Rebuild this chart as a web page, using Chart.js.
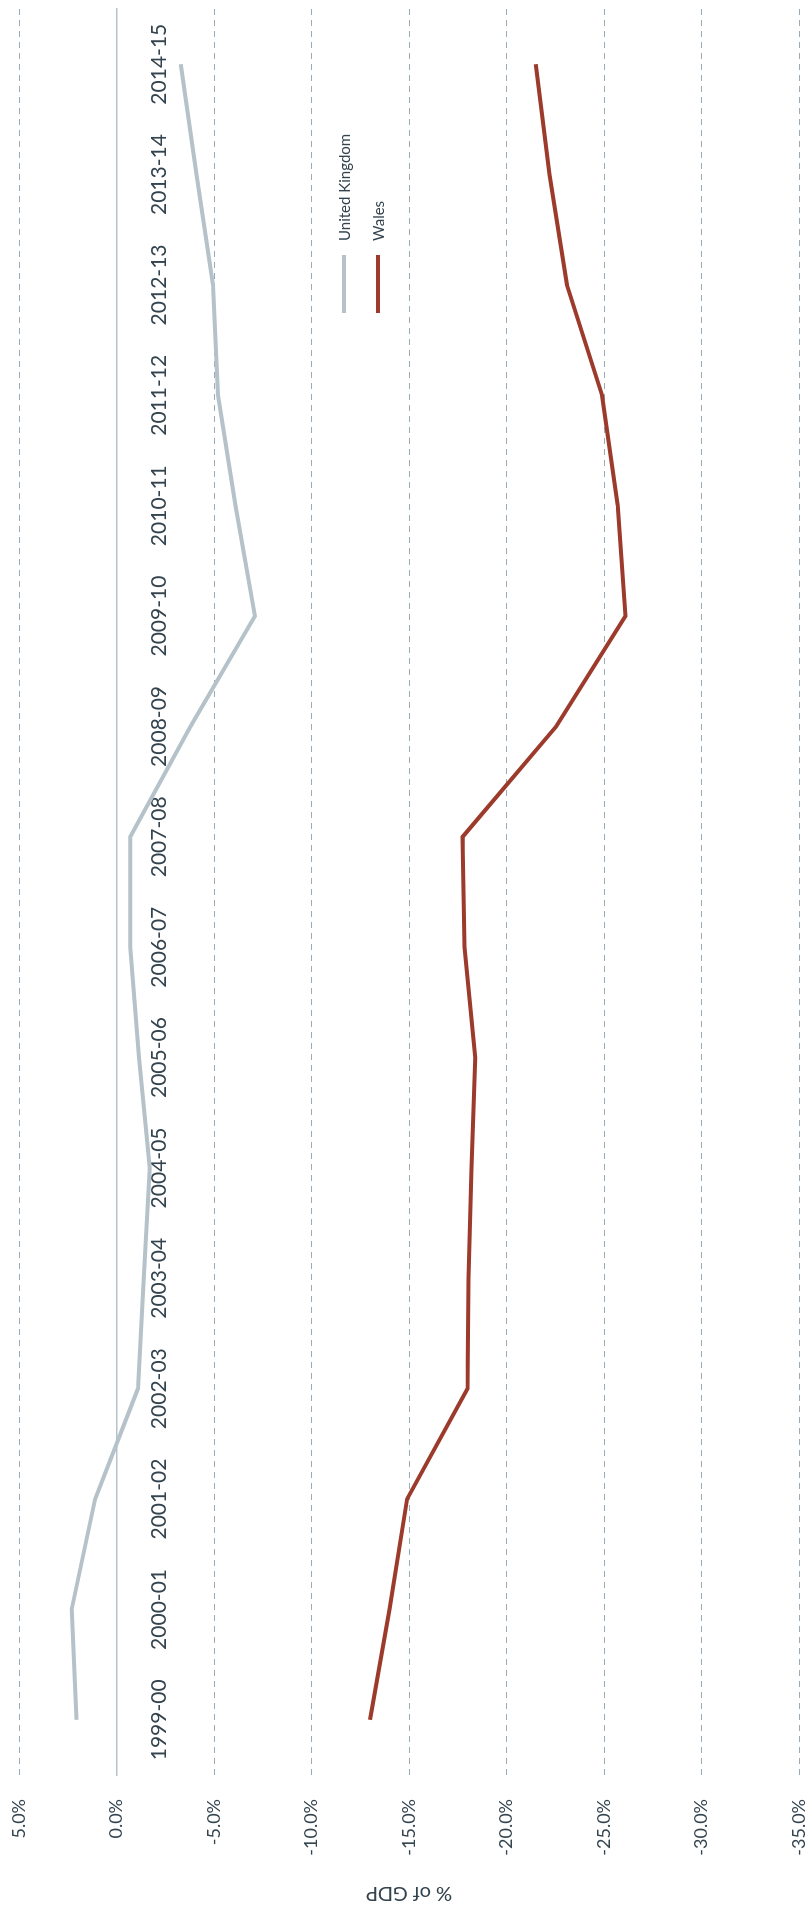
<!DOCTYPE html>
<html>
<head>
<meta charset="utf-8">
<script src="https://cdn.jsdelivr.net/npm/chart.js@4"></script>
<style>
html, body { margin: 0; padding: 0; background: #fff; overflow: hidden; }
/* chart is drawn landscape, then turned a quarter left to fit the page */
#wrap { position: absolute; left: 0; top: 0; width: 1906px; height: 810px;
        transform-origin: 0 0; transform: translate(0, 1906px) rotate(-90deg); }
#legend { position: absolute; left: 1593px; top: 327px; font: 15px Lato; color: #34444f; }
.item { display: flex; align-items: center; height: 34px; }
.sw { width: 58px; height: 4px; margin-right: 14px; }
</style>
</head>
<body>
<div id="wrap">
  <canvas id="chart" width="1906" height="810"></canvas>
  <div id="legend"></div>
</div>
<script>
const years = ['1999-00','2000-01','2001-02','2002-03','2003-04','2004-05','2005-06','2006-07',
               '2007-08','2008-09','2009-10','2010-11','2011-12','2012-13','2013-14','2014-15']
const ukValues = [2.05, 2.3, 1.1, -1.1, -1.4, -1.7, -1.15, -0.7, -0.7, -3.8, -7.1, -6.1, -5.2, -4.95, -4.1, -3.3]
const walesValues = [-13.0, -14.0, -14.9, -18.0, -18.05, -18.2, -18.4, -17.85, -17.75, -22.55, -26.1, -25.7, -24.9, -23.1, -22.2, -21.5]
const seriesNames = ['United Kingdom', 'Wales']
const seriesColors = ['#b5c2c9', '#9c3b2b']
const textColor = '#34444f'

const ctx = document.getElementById('chart').getContext('2d')
const chart = new Chart(ctx, {
    type: 'line',
    data: {
        labels: years,
        datasets: [
            { label: seriesNames[0], data: ukValues, borderColor: seriesColors[0], borderWidth: 4 },
            { label: seriesNames[1], data: walesValues, borderColor: seriesColors[1], borderWidth: 4 }
        ]
    },
    options: {
        responsive: false,
        animation: false,
        devicePixelRatio: 1,
        layout: { padding: { top: 19, bottom: 11, right: 9, left: 0 } },
        elements: { point: { radius: 0 }, line: { tension: 0 } },
        plugins: { legend: { display: false }, tooltip: { enabled: false } },
        scales: {
            x: {
                position: { y: 0 },
                offset: true,
                afterFit: s => { s.paddingLeft = 0; s.paddingRight = 0 },
                grid: { display: false, drawTicks: false },
                border: { display: true, color: '#b6c1c8', width: 1.5 },
                ticks: { padding: 30, maxRotation: 0, autoSkip: false, color: textColor,
                         font: { family: 'Lato', size: 21 } }
            },
            y: {
                min: -35,
                max: 5,
                afterFit: s => { s.width = 131; s.paddingTop = 0; s.paddingBottom = 0 },
                ticks: { stepSize: 5, padding: 24, color: textColor,
                         font: { family: 'Lato', size: 18 },
                         callback: v => v.toFixed(1) + '%' },
                grid: { drawTicks: false, lineWidth: 1,
                        color: c => (c.tick && c.tick.value === 0) ? 'rgba(0,0,0,0)' : '#9aabb8' },
                border: { display: false, dash: [6, 5] },
                title: { display: true, text: '% of GDP', color: textColor,
                         font: { family: 'Lato', size: 20 }, padding: { top: 1, bottom: 0 } }
            }
        }
    }
})

// legend as html, from the datasets
const legend = document.getElementById('legend')
chart.data.datasets.forEach(ds => {
    const row = document.createElement('div')
    row.className = 'item'
    const sw = document.createElement('span')
    sw.className = 'sw'
    sw.style.background = ds.borderColor
    row.appendChild(sw)
    row.appendChild(document.createTextNode(ds.label))
    legend.appendChild(row)
})
</script>
</body>
</html>
